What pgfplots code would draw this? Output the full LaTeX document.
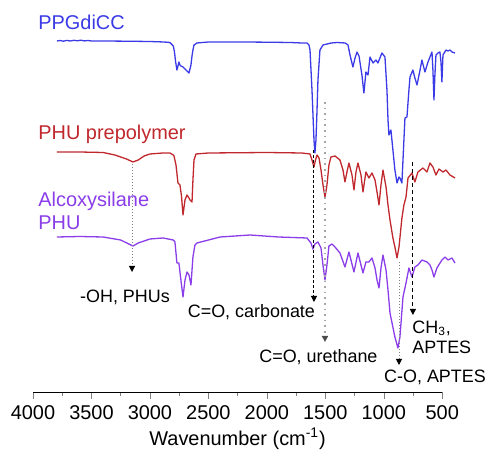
\documentclass[border=0pt]{standalone}
\usepackage{fontspec}
\setmainfont{Liberation Sans}
\usepackage{pgfplots}
\pgfplotsset{compat=1.18}
\usetikzlibrary{arrows.meta}
\definecolor{cblue}{RGB}{58,58,230}
\definecolor{cred}{RGB}{192,40,45}
\definecolor{cpurp}{RGB}{138,61,232}
\newcommand\lbl{\fontsize{10}{12}\selectfont}
\newcommand\ann{\fontsize{9}{10.8}\selectfont}
\begin{document}
\begin{tikzpicture}
\begin{axis}[
  scale only axis, width=204.65bp, height=196bp,
  xmin=500, xmax=4000, ymin=72, ymax=464, x dir=reverse,
  axis x line*=bottom, hide y axis,
  xtick={500,1000,...,4000}, minor x tick num=1,
  tick align=outside, major tick length=3.5bp, minor tick length=2bp,
  clip=false,
  ticklabel style={font=\lbl},
  /pgf/number format/assume math mode=true, /pgf/number format/1000 sep={},
  xlabel={Wavenumber (cm\textsuperscript{-1})},
  xlabel style={font=\lbl, at={(axis description cs:0.5,0)}, anchor=base, yshift=-26.5bp},
  every axis plot/.append style={line width=0.65bp, line join=round},
]
\addplot[cblue] coordinates {(3795,423)(3770,423.5)(3740,422.8)(3710,423.6)(3680,423)(3650,423.7)(3620,423.2)(3590,423.8)(3560,423.1)(3530,423.5)(3500,423)(3400,423)(3200,422.8)(3000,422.5)(2880,422)(2829,421.5)(2800,418)(2790,412)(2780,402)(2769,394)(2760,398)(2752,402)(2743,399)(2735,398)(2717,397)(2700,395)(2683,393)(2666,391)(2649,399)(2640,408)(2632,414)(2623,419)(2598,421)(2500,422)(2200,422)(2000,421.8)(1800,421.5)(1700,421)(1657,421)(1640,419)(1631,414)(1614,374)(1597,324)(1589,311)(1580,324)(1571,354)(1563,384)(1546,414)(1520,419)(1450,421)(1400,421.5)(1330,421)(1306,419)(1289,409)(1264,397)(1246,406)(1229,412)(1212,408)(1187,389)(1170,371)(1153,392)(1135,389)(1118,407)(1092,401)(1067,404)(1050,401)(1016,411)(990,407)(973,374)(964,344)(956,329)(939,334)(922,314)(905,294)(887,281)(870,287)(862,286)(845,281)(828,324)(819,346)(802,347)(785,374)(776,387)(751,394)(734,386)(716,379)(690,394)(674,404)(648,392)(622,402)(588,412)(580,394)(571,364)(563,389)(554,409)(537,411)(520,412)(511,402)(503,382)(494,409)(468,414)(451,413)(434,414)(417,412)(391,411)};
\addplot[cred] coordinates {(3795,312)(3600,312)(3400,311.5)(3300,309)(3200,305)(3145,302)(3100,304)(3050,308)(3000,310)(2888,311)(2829,311)(2800,309)(2794,308)(2777,299)(2760,281)(2743,279)(2730,268)(2717,249)(2700,264)(2683,269)(2666,266)(2657,264)(2640,262)(2632,284)(2623,304)(2606,310)(2500,311)(2000,311.5)(1700,311)(1631,310)(1614,304)(1597,297)(1584,304)(1571,309)(1554,306)(1537,294)(1520,279)(1503,267)(1486,279)(1469,299)(1452,307)(1417,308)(1375,304)(1349,294)(1332,282)(1315,292)(1298,301)(1272,289)(1255,274)(1238,292)(1221,301)(1195,289)(1178,272)(1153,292)(1127,286)(1101,291)(1075,284)(1058,272)(1041,259)(1024,279)(1007,294)(981,277)(964,259)(947,244)(922,226)(905,217)(887,206)(870,217)(845,246)(828,259)(810,267)(793,286)(759,291)(734,282)(708,292)(665,296)(631,292)(605,301)(580,297)(554,289)(528,295)(494,292)(468,294)(434,289)(391,286)};
\addplot[cpurp] coordinates {(3795,227)(3600,227.5)(3400,227)(3250,224)(3145,218)(3100,221)(3000,225)(2888,226)(2800,224)(2786,222)(2769,201)(2752,201)(2735,184)(2717,167)(2700,184)(2683,192)(2666,189)(2649,179)(2632,207)(2615,219)(2598,221)(2400,227)(2144,229)(1900,227)(1657,226)(1623,221)(1606,215)(1589,220)(1563,222)(1537,216)(1520,199)(1503,184)(1486,199)(1469,218)(1443,220)(1417,217)(1375,211)(1332,197)(1298,212)(1255,192)(1221,211)(1178,191)(1153,202)(1127,202)(1101,206)(1075,196)(1058,184)(1041,176)(1024,196)(1007,209)(981,194)(964,174)(947,151)(905,127)(879,116)(862,127)(836,167)(810,181)(785,196)(759,187)(734,197)(708,199)(674,204)(631,202)(605,199)(588,194)(571,187)(546,196)(503,204)(477,207)(451,204)(417,206)(391,201)};
% annotation arrows
\draw[gray, densely dotted, line width=0.5bp, -{Triangle[length=3bp,width=3bp,black]}] (axis cs:3153,300) -- (axis cs:3153,192);
\draw[black, dash pattern=on 1.5bp off 1bp, line width=0.5bp, -{Triangle[length=3bp,width=3bp]}] (axis cs:1597,314) -- (axis cs:1597,162);
\draw[black!35, dotted, line width=0.8bp, -{Triangle[length=3bp,width=3bp,black!70]}] (axis cs:1503,362) -- (axis cs:1503,122);
\draw[gray, densely dotted, line width=0.5bp, -{Triangle[length=3bp,width=3bp,black]}] (axis cs:870,202) -- (axis cs:870,99);
\draw[black, dash pattern=on 2bp off 1.5bp, line width=0.5bp, -{Triangle[length=3bp,width=3bp]}] (axis cs:751,302) -- (axis cs:751,149);
% annotation texts
\node[font=\ann, anchor=base, inner sep=0] at (axis cs:3213,161) {-OH, PHUs};
\node[font=\ann, anchor=base, inner sep=0] at (axis cs:2132,146) {C=O, carbonate};
\node[font=\ann, anchor=base, inner sep=0] at (axis cs:1559,102) {C=O, urethane};
\node[font=\ann, anchor=base, inner sep=0] at (axis cs:562,82) {C-O, APTES};
\node[font=\ann, anchor=base west, inner sep=0] at (axis cs:759,131) {CH\textsubscript{3},};
\node[font=\ann, anchor=base west, inner sep=0] at (axis cs:759,111) {APTES};
% series labels
\node[font=\lbl, text=cblue, anchor=base west, inner sep=0] at (axis cs:3957,434) {PPGdiCC};
\node[font=\lbl, text=cred, anchor=base west, inner sep=0] at (axis cs:3957,324) {PHU prepolymer};
\node[font=\lbl, text=cpurp, anchor=base west, inner sep=0] at (axis cs:3957,257) {Alcoxysilane};
\node[font=\lbl, text=cpurp, anchor=base west, inner sep=0] at (axis cs:3957,234) {PHU};
\coordinate (bbA) at (axis cs:4282,0);
\coordinate (bbB) at (axis cs:109,464);
\end{axis}
\useasboundingbox (bbA) rectangle (bbB);
\end{tikzpicture}
\end{document}
